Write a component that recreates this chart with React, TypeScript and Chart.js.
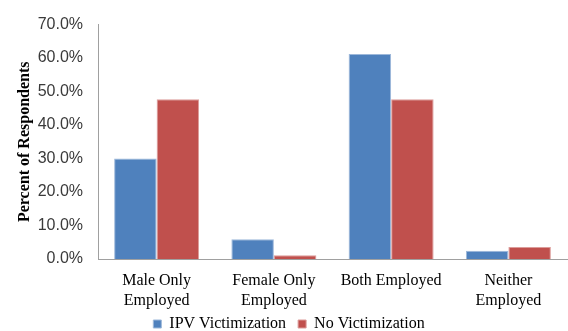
import React, { useEffect, useRef } from "react";
import { Chart, registerables } from "chart.js";

Chart.register(...registerables);

const categories: (string | string[])[] = [
  ["Male Only", "Employed"],
  ["Female Only", "Employed"],
  "Both Employed",
  ["Neither", "Employed"],
];
const ipvVictimization = [30.0, 5.9, 61.2, 2.5];
const noVictimization = [47.7, 1.1, 47.7, 3.6];
const seriesNames = ["IPV Victimization", "No Victimization"];
const yMin = 0;
const yMax = 70;
const yStep = 10;

export default function App() {
  const ref = useRef<HTMLCanvasElement | null>(null);
  useEffect(() => {
    if (!ref.current) return;
    const chart = new Chart(ref.current, {
      type: "bar",
      data: {
        labels: categories,
        datasets: [
          {
            label: seriesNames[0],
            data: ipvVictimization,
            backgroundColor: "#4F81BD",
            borderColor: "#9DB8DA",
            borderWidth: 1,
          },
          {
            label: seriesNames[1],
            data: noVictimization,
            backgroundColor: "#C0504D",
            borderColor: "#DC9C9A",
            borderWidth: 1,
          },
        ],
      },
      options: {
        animation: false,
        responsive: false,
        layout: { padding: { left: 11, right: 1, top: 19, bottom: -11 } },
        datasets: { bar: { categoryPercentage: 0.725, barPercentage: 1 } },
        plugins: {
          tooltip: { enabled: false },
          legend: {
            position: "bottom",
            labels: {
              boxWidth: 8,
              boxHeight: 8,
              padding: 12,
              color: "#000",
              font: { family: "Liberation Serif", size: 16 },
            },
          },
        },
        scales: {
          x: {
            grid: { display: false, drawTicks: false },
            border: { display: true, color: "#A0A0A0", width: 1 },
            afterFit: (s: any) => {
              s.height = 45;
              s._computeLabelArea = () => undefined;
            },
            ticks: {
              padding: 12,
              color: "#000",
              maxRotation: 0,
              font: { family: "Liberation Serif", size: 16, lineHeight: 1.25 },
            },
          },
          y: {
            min: yMin,
            max: yMax,
            grid: { display: false, drawTicks: false },
            border: { display: true, color: "#A0A0A0", width: 1 },
            afterFit: (s: any) => {
              s.width = 87;
            },
            ticks: {
              stepSize: yStep,
              padding: 15,
              color: "#3A3A3A",
              font: { family: "Liberation Sans", size: 16 },
              callback: (v: any) => Number(v).toFixed(1) + "%",
            },
            title: {
              display: true,
              text: "Percent of Respondents",
              color: "#000",
              font: { family: "Liberation Serif", size: 16, weight: "bold" },
              padding: { top: 4, bottom: 4 },
            },
          },
        },
      },
    });
    return () => chart.destroy();
  }, []);
  return (
    <div style={{ position: "fixed", left: 0, top: 0, width: 568, height: 331, background: "#fff" }}>
      <canvas ref={ref} width={568} height={331} style={{ width: 568, height: 331 }} />
    </div>
  );
}
